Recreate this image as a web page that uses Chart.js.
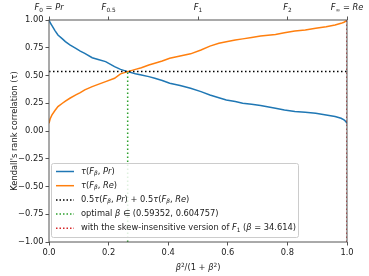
<!DOCTYPE html>
<html>
<head>
<meta charset="utf-8">
<script src="https://cdn.jsdelivr.net/npm/chart.js@4.4.0/dist/chart.umd.min.js"></script>
<style>
  html, body { margin: 0; padding: 0; background: #fff; }
  #wrap { width: 369px; height: 276px; }
</style>
</head>
<body>
<div id="wrap"><canvas id="myChart" width="369" height="276"></canvas></div>
<script>
// valori: x = beta^2/(1+beta^2)
const xVals = [0, 0.004, 0.01, 0.02, 0.03, 0.045, 0.055, 0.07, 0.09, 0.105, 0.12, 0.145, 0.165, 0.19, 0.22, 0.24, 0.264, 0.29, 0.31, 0.335, 0.355, 0.38, 0.405, 0.44, 0.475, 0.51, 0.54, 0.57, 0.595, 0.625, 0.65, 0.68, 0.71, 0.76, 0.79, 0.825, 0.86, 0.895, 0.93, 0.96, 0.98, 0.99, 0.996, 1.0];
const tauPr = [1.0, 0.975, 0.95, 0.905, 0.865, 0.83, 0.805, 0.775, 0.745, 0.72, 0.70, 0.66, 0.645, 0.625, 0.58, 0.555, 0.535, 0.515, 0.505, 0.49, 0.475, 0.455, 0.43, 0.41, 0.385, 0.355, 0.325, 0.30, 0.28, 0.265, 0.25, 0.24, 0.23, 0.205, 0.19, 0.175, 0.168, 0.16, 0.145, 0.13, 0.115, 0.10, 0.085, 0.07];
const tauRe = [0.07, 0.11, 0.145, 0.185, 0.22, 0.25, 0.27, 0.295, 0.325, 0.345, 0.37, 0.40, 0.42, 0.445, 0.475, 0.515, 0.535, 0.555, 0.57, 0.595, 0.61, 0.63, 0.655, 0.675, 0.695, 0.73, 0.765, 0.79, 0.805, 0.82, 0.83, 0.842, 0.855, 0.87, 0.885, 0.90, 0.91, 0.925, 0.94, 0.955, 0.97, 0.98, 0.99, 1.0];
const meanTau = 0.535;
const optimalX = 0.264;
const skewX = 0.99917;

const xTicks = [0, 0.2, 0.4, 0.6, 0.8, 1.0];
const yTicks = [-1, -0.75, -0.5, -0.25, 0, 0.25, 0.5, 0.75, 1];
const topTicks = [0, 0.2, 0.5, 0.8, 1.0];
// etichette: [testo, stile] (r normale, i corsivo, s/sr pedice, p apice)
const topLabels = [
  [["F", "i"], ["0", "sr"], [" = ", "r"], ["Pr", "i"]],
  [["F", "i"], ["0.5", "sr"]],
  [["F", "i"], ["1", "sr"]],
  [["F", "i"], ["2", "sr"]],
  [["F", "i"], ["\u221e", "sr"], [" = ", "r"], ["Re", "i"]],
];
const xTitle = [["\u03b2", "i"], ["2", "p"], ["/(1 + ", "r"], ["\u03b2", "i"], ["2", "p"], [")", "r"]];
const legendLabels = [
  [["\u03c4", "i"], ["(", "r"], ["F", "i"], ["\u03b2", "s"], [", ", "r"], ["Pr", "i"], [")", "r"]],
  [["\u03c4", "i"], ["(", "r"], ["F", "i"], ["\u03b2", "s"], [", ", "r"], ["Re", "i"], [")", "r"]],
  [["0.5", "r"], ["\u03c4", "i"], ["(", "r"], ["F", "i"], ["\u03b2", "s"], [", ", "r"], ["Pr", "i"], [") + 0.5", "r"], ["\u03c4", "i"], ["(", "r"], ["F", "i"], ["\u03b2", "s"], [", ", "r"], ["Re", "i"], [")", "r"]],
  [["optimal ", "r"], ["\u03b2", "i"], [" \u2208 (0.59352, 0.604757)", "r"]],
  [["with the skew-insensitive version of ", "r"], ["F", "i"], ["1", "sr"], [" (", "r"], ["\u03b2", "i"], [" = 34.614)", "r"]],
];

const colors = ["#1f77b4", "#ff7f0e", "#000000", "#2ca02c", "#d62728"];
const FONT = "DejaVu Sans";
const FS = 8.3;

function toPoints(xs, ys) {
  return xs.map((x, i) => ({ x: x, y: ys[i] }));
}

// disegna testo con corsivo, pedici e apici
function drawRich(ctx, parts, x, y, align) {
  const fontOf = (k) => {
    if (k === "i") return "italic " + FS + "px '" + FONT + "'";
    if (k === "s") return "italic " + FS * 0.7 + "px '" + FONT + "'";
    if (k === "sr" || k === "p") return FS * 0.7 + "px '" + FONT + "'";
    return FS + "px '" + FONT + "'";
  };
  let total = 0;
  parts.forEach((p) => {
    ctx.font = fontOf(p[1]);
    total += ctx.measureText(p[0]).width;
  });
  let cx = align === "center" ? x - total / 2 : x;
  ctx.textAlign = "left";
  ctx.textBaseline = "middle";
  parts.forEach((p) => {
    ctx.font = fontOf(p[1]);
    let dy = 0;
    if (p[1] === "s" || p[1] === "sr") dy = 2;
    if (p[1] === "p") dy = -2.5;
    ctx.fillText(p[0], cx, y + dy);
    cx += ctx.measureText(p[0]).width;
  });
}

const extras = {
  id: "extras",
  afterDraw(chart) {
    const ctx = chart.ctx;
    const ca = chart.chartArea;
    ctx.save();
    // cornice
    ctx.strokeStyle = "#555";
    ctx.lineWidth = 1;
    ctx.strokeRect(ca.left, ca.top, ca.right - ca.left, ca.bottom - ca.top);

    ctx.fillStyle = "#222";
    // etichette asse superiore
    const top = chart.scales.x2;
    topTicks.forEach((t, i) => {
      drawRich(ctx, topLabels[i], top.getPixelForValue(t), ca.top - 12, "center");
    });
    // titolo asse x
    drawRich(ctx, xTitle, (ca.left + ca.right) / 2, ca.bottom + 26, "center");

    // legenda
    const lx = ca.left + 2;
    const lw = 247;
    const rowH = 14.2;
    const lh = rowH * legendLabels.length + 3;
    const ly = ca.bottom - 5 - lh;
    ctx.fillStyle = "rgba(255,255,255,0.85)";
    ctx.strokeStyle = "#cccccc";
    ctx.lineWidth = 1;
    ctx.beginPath();
    ctx.roundRect(lx + 0.5, ly + 0.5, lw, lh, 2);
    ctx.fill();
    ctx.stroke();
    legendLabels.forEach((lab, i) => {
      const ry = ly + 8.5 + i * rowH;
      ctx.strokeStyle = colors[i];
      ctx.lineWidth = 1.5;
      ctx.setLineDash(i < 2 ? [] : [1.5, 2]);
      ctx.beginPath();
      ctx.moveTo(lx + 5, ry);
      ctx.lineTo(lx + 23, ry);
      ctx.stroke();
      ctx.setLineDash([]);
      ctx.fillStyle = "#222";
      drawRich(ctx, lab, lx + 30, ry, "left");
    });
    ctx.restore();
  },
};

const ctx = document.getElementById("myChart").getContext("2d");
const myChart = new Chart(ctx, {
  type: "scatter",
  data: {
    datasets: [
      {
        label: "tau Pr",
        data: toPoints(xVals, tauPr),
        borderColor: colors[0],
        borderWidth: 1.5,
        showLine: true,
        pointRadius: 0,
        order: 5,
      },
      {
        label: "tau Re",
        data: toPoints(xVals, tauRe),
        borderColor: colors[1],
        borderWidth: 1.5,
        showLine: true,
        pointRadius: 0,
        order: 4,
      },
      {
        label: "media",
        data: toPoints([0, 1], [meanTau, meanTau]),
        borderColor: colors[2],
        borderWidth: 1.5,
        borderDash: [1.5, 2.5],
        showLine: true,
        pointRadius: 0,
        order: 3,
      },
      {
        label: "optimal",
        data: toPoints([optimalX, optimalX], [-1, meanTau]),
        borderColor: colors[3],
        borderWidth: 1.5,
        borderDash: [1.5, 2.5],
        showLine: true,
        pointRadius: 0,
        order: 2,
      },
      {
        label: "skew",
        data: toPoints([skewX, skewX], [-1, 1]),
        borderColor: colors[4],
        borderWidth: 1.2,
        borderDash: [1.5, 2.5],
        showLine: true,
        pointRadius: 0,
        order: 1,
      },
    ],
  },
  options: {
    responsive: false,
    animation: false,
    layout: { padding: { left: 0, right: 22, top: 0, bottom: 0 } },
    plugins: {
      legend: { display: false },
      tooltip: { enabled: false },
    },
    scales: {
      x: {
        type: "linear",
        position: "bottom",
        min: 0,
        max: 1,
        afterBuildTicks: (s) => { s.ticks = xTicks.map((v) => ({ value: v })); },
        afterFit: (s) => { s.height = 34; },
        grid: { drawOnChartArea: false, drawTicks: true, tickLength: 3.5, color: "#555" },
        border: { display: false },
        ticks: {
          color: "#222",
          font: { family: FONT, size: FS },
          padding: 2,
          maxRotation: 0,
          callback: (v) => v.toFixed(1),
        },
      },
      x2: {
        type: "linear",
        position: "top",
        min: 0,
        max: 1,
        afterBuildTicks: (s) => { s.ticks = topTicks.map((v) => ({ value: v })); },
        afterFit: (s) => { s.height = 20; },
        grid: { drawOnChartArea: false, drawTicks: true, tickLength: 3.5, color: "#555" },
        border: { display: false },
        ticks: { callback: () => "", padding: 0 },
      },
      y: {
        min: -1,
        max: 1,
        afterBuildTicks: (s) => { s.ticks = yTicks.map((v) => ({ value: v })); },
        afterFit: (s) => { s.width = 49; },
        grid: { drawOnChartArea: false, drawTicks: true, tickLength: 3.5, color: "#555" },
        border: { display: false },
        ticks: {
          color: "#222",
          font: { family: FONT, size: FS },
          padding: 2,
          callback: (v) => (v < 0 ? "\u2212" : "") + Math.abs(v).toFixed(2),
        },
        title: {
          display: true,
          text: "Kendall's rank correlation (\u03c4)",
          color: "#222",
          font: { family: FONT, size: FS },
          padding: { top: 10, bottom: 0 },
        },
      },
    },
  },
  plugins: [extras],
});
</script>
</body>
</html>
